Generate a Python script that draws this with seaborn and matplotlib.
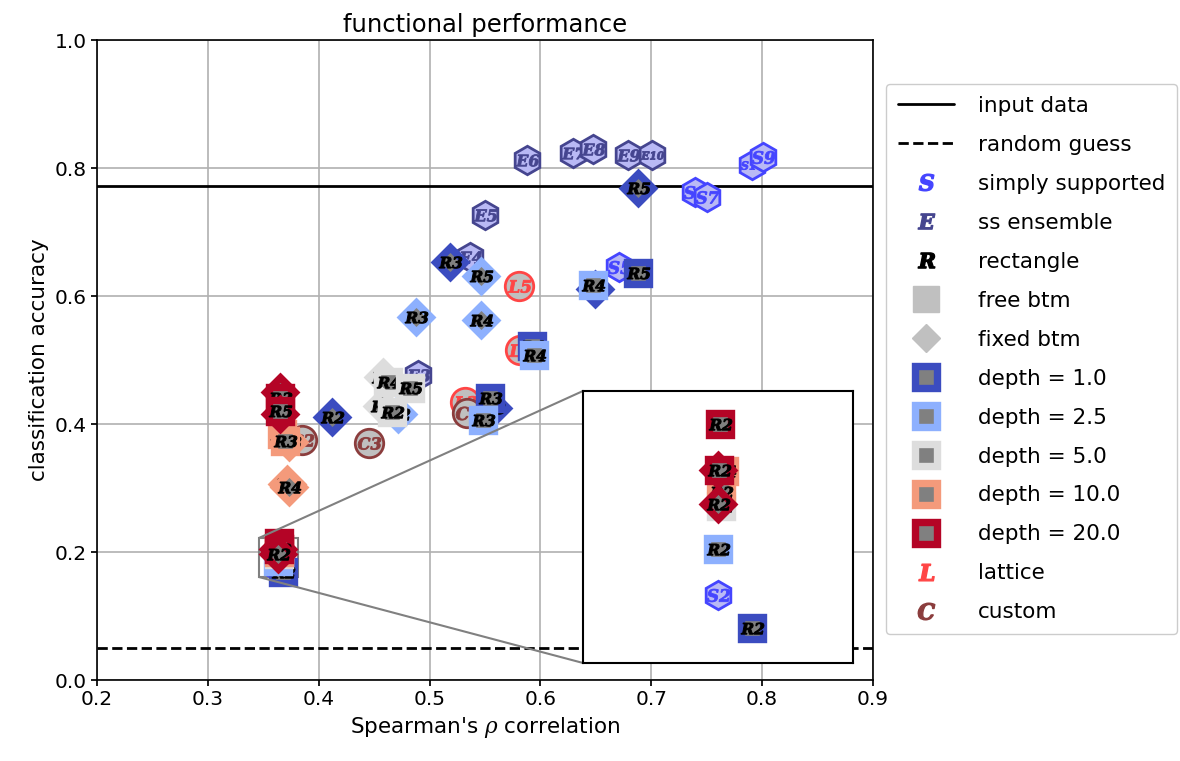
import matplotlib
matplotlib.use("Agg")
import matplotlib.pyplot as plt
import seaborn as sns
from matplotlib.lines import Line2D
from mpl_toolkits.axes_grid1.inset_locator import mark_inset

# ---------------- data ----------------
input_acc = 0.772
random_acc = 0.05

depth_levels = [1.0, 2.5, 5.0, 10.0, 20.0]
depth_colors = ["#3b4cc0", "#8db0fe", "#dddddd", "#f49a7b", "#b40426"]

# simply supported (S)
ss_x = [0.3637, 0.6707, 0.7392, 0.7500, 0.7906, 0.8006]
ss_y = [0.1762, 0.6453, 0.7625, 0.7547, 0.8047, 0.8172]
ss_lab = ["S2", "S5", "S8", "S7", "S10", "S9"]

# ss ensemble (E)
ens_x = [0.4894, 0.5363, 0.5499, 0.5877, 0.6290, 0.6473, 0.6788, 0.7005]
ens_y = [0.4766, 0.6610, 0.7266, 0.8125, 0.8230, 0.8297, 0.8203, 0.8203]
ens_lab = ["E3", "E4", "E5", "E6", "E7", "E8", "E9", "E10"]

# lattice (L)
lat_x = [0.5318, 0.5814, 0.5805]
lat_y = [0.4340, 0.5160, 0.6156]
lat_lab = ["L3", "L4", "L5"]

# custom (C)
cus_x = [0.3850, 0.4453, 0.5336]
cus_y = [0.3750, 0.3700, 0.4170]
cus_lab = ["C2", "C3", "C1"]

# rectangle (R): spearman, accuracy, label, bottom condition, depth
rect_x = [0.6878, 0.5180, 0.6880, 0.6490, 0.5923, 0.4119, 0.5570, 0.5544, 0.3681,
          0.5460, 0.4877, 0.5460, 0.6474, 0.5940, 0.4714, 0.5480, 0.3637,
          0.4580, 0.4625, 0.4822, 0.4570, 0.4660, 0.3641,
          0.3730, 0.3668, 0.3695, 0.3713, 0.3730, 0.3645, 0.3641,
          0.3650, 0.3650, 0.3655, 0.3655, 0.3640, 0.3637, 0.3638, 0.3637]
rect_y = [0.7690, 0.6530, 0.6360, 0.6110, 0.5220, 0.4110, 0.4250, 0.4406, 0.1687,
          0.6310, 0.5670, 0.5625, 0.6170, 0.5080, 0.4156, 0.4060, 0.1865,
          0.4734, 0.4656, 0.4563, 0.4280, 0.4190, 0.1961,
          0.3720, 0.3840, 0.3730, 0.3060, 0.3016, 0.2040, 0.1993,
          0.4500, 0.4406, 0.4160, 0.4200, 0.2145, 0.2042, 0.2042, 0.1966]
rect_lab = ["R5", "R3", "R5", "R4", "R4", "R2", "R3", "R3", "R2",
            "R5", "R3", "R4", "R4", "R4", "R2", "R3", "R2",
            "R4", "R4", "R5", "R3", "R2", "R2",
            "R3", "R4", "R3", "R2", "R4", "R4", "R2",
            "R3", "R3", "R5", "R5", "R2", "R2", "R2", "R2"]
rect_btm = ["fixed", "fixed", "free", "fixed", "free", "fixed", "fixed", "free", "free",
            "fixed", "fixed", "fixed", "free", "free", "fixed", "free", "free",
            "fixed", "free", "free", "fixed", "free", "free",
            "fixed", "free", "free", "fixed", "fixed", "free", "free",
            "fixed", "free", "fixed", "free", "free", "fixed", "free", "fixed"]
rect_depth = [1.0] * 9 + [2.5] * 8 + [5.0] * 6 + [10.0] * 7 + [20.0] * 8

# ---------------- style ----------------
sns.set_theme(style="whitegrid", rc={
    "axes.edgecolor": "black", "axes.linewidth": 1.2,
    "grid.color": "#b0b0b0", "grid.linewidth": 1.2,
    "xtick.bottom": True, "ytick.left": True,
    "xtick.major.size": 4, "ytick.major.size": 4,
    "xtick.color": "black", "ytick.color": "black",
    "axes.labelcolor": "black", "text.color": "black",
})
plt.rcParams["font.family"] = ["DejaVu Sans"]
plt.rcParams["mathtext.fontset"] = "dejavuserif"

S_COL, E_COL, HEX_FACE = "#4545ff", "#45458f", "#b9b9f5"
L_COL, C_COL, CIRC_FACE = "#ff4545", "#8b3d3d", "#c0c0c0"
MID_GRAY = "#808080"
depth_map = dict(zip(depth_levels, depth_colors))


def tmark(s):
    return r"$\mathbfit{" + s + "}$"


def put(a, x, y, marker, size, face, edge, lw, z):
    sns.scatterplot(x=[x], y=[y], marker=marker, s=size ** 2, color=face,
                    edgecolor=edge, linewidth=lw, zorder=z, ax=a, legend=False)
    a.collections[-1].set_joinstyle("miter")


def draw_points(a):
    z = 2.0
    step = 0.01
    for xs, ys, labs, shape, ms, face, col in [
        (ss_x, ss_y, ss_lab, "h", 20.5, HEX_FACE, S_COL),
        (ens_x, ens_y, ens_lab, "h", 20.5, HEX_FACE, E_COL),
        (lat_x, lat_y, lat_lab, "o", 20.5, CIRC_FACE, L_COL),
        (cus_x, cus_y, cus_lab, "o", 20.5, CIRC_FACE, C_COL),
    ]:
        for x, y, lab in zip(xs, ys, labs):
            put(a, x, y, shape, ms, face, col, 2.0, z); z += step
            put(a, x, y, tmark(lab), 16.5, col, col, 0.6, z); z += step
    for x, y, lab, btm, d in zip(rect_x, rect_y, rect_lab, rect_btm, rect_depth):
        c = depth_map[d]
        if btm == "free":
            put(a, x, y, "s", 16.5, MID_GRAY, c, 5.3, z)
        else:
            put(a, x, y, "D", 15, MID_GRAY, c, 5.3, z)
        z += step
        put(a, x, y, tmark(lab), 16.5, "black", "black", 0.7, z); z += step


fig = plt.figure(figsize=(11.8, 7.61), dpi=100)
ax = fig.add_axes([97 / 1180, 81 / 761, 776 / 1180, 640 / 761])

ax.axhline(input_acc, color="black", lw=2, zorder=1.5)
ax.axhline(random_acc, color="black", lw=2, ls="--", zorder=1.5)
draw_points(ax)

ax.set_xlim(0.2, 0.9)
ax.set_ylim(0.0, 1.0)
ax.set_xticks([0.2, 0.3, 0.4, 0.5, 0.6, 0.7, 0.8, 0.9])
ax.set_yticks([0.0, 0.2, 0.4, 0.6, 0.8, 1.0])
ax.tick_params(labelsize=14.5)
ax.set_xlabel(r"Spearman's $\rho$ correlation", fontsize=15.5)
ax.set_ylabel("classification accuracy", fontsize=15.5)
ax.set_title("functional performance", fontsize=17.5)

# inset
axins = ax.inset_axes([0.6263, 0.0266, 0.348, 0.425])
axins.set_zorder(100)
axins.set_facecolor("white")
draw_points(axins)
axins.set_xlim(0.3461, 0.3813)
axins.set_ylim(0.1609, 0.2219)
axins.set_xticks([])
axins.set_yticks([])
axins.grid(False)
for sp in axins.spines.values():
    sp.set_edgecolor("black")
    sp.set_linewidth(1.5)
mark_inset(ax, axins, loc1=2, loc2=3, fc="none", ec="0.5", lw=1.5)

# legend
handles = [
    Line2D([], [], color="black", lw=2, label="input data"),
    Line2D([], [], color="black", lw=2, ls="--", label="random guess"),
    Line2D([], [], ls="", marker=tmark("S"), ms=12, color=S_COL, label="simply supported"),
    Line2D([], [], ls="", marker=tmark("E"), ms=12, color=E_COL, label="ss ensemble"),
    Line2D([], [], ls="", marker=tmark("R"), ms=12, color="black", label="rectangle"),
    Line2D([], [], ls="", marker="s", ms=19, color="#c0c0c0", label="free btm"),
    Line2D([], [], ls="", marker="D", ms=14, color="#c0c0c0", label="fixed btm"),
]
for d, c in zip(depth_levels, depth_colors):
    handles.append(Line2D([], [], ls="", marker="s", ms=16.5, mfc=MID_GRAY, mec=c,
                          mew=5.3, label=f"depth = {d}"))
handles += [
    Line2D([], [], ls="", marker=tmark("L"), ms=12, color=L_COL, label="lattice"),
    Line2D([], [], ls="", marker=tmark("C"), ms=12, color=C_COL, label="custom"),
]
ax.legend(handles=handles, loc="upper left", bbox_to_anchor=(1.017, 0.931),
          borderaxespad=0, fontsize=15.5, handlelength=2.6, handletextpad=1.1,
          labelspacing=0.88, borderpad=0.55, frameon=True, framealpha=1,
          edgecolor="#cccccc")

fig.savefig("out.png", dpi=100)
